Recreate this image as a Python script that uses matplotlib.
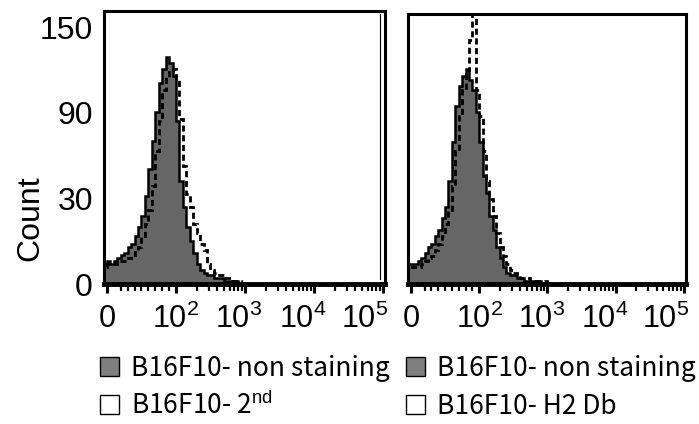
import matplotlib
matplotlib.use("Agg")
import matplotlib.pyplot as plt
import numpy as np
from matplotlib.patches import Patch
from matplotlib.transforms import ScaledTranslation

plt.rcParams['font.family'] = ['Liberation Sans', 'DejaVu Sans']
plt.rcParams['mathtext.fontset'] = 'custom'
plt.rcParams['mathtext.rm'] = 'Liberation Sans'
plt.rcParams['mathtext.it'] = 'Liberation Sans:italic'

FIG_SIZE = (6.99, 4.24)
DPI = 100
FILL_GRAY = '#666666'
LEGEND_GRAY = '#7f7f7f'
Y_FONT_SIZE = 23
X_FONT_SIZE = 22
LEGEND_FONT_SIZE = 19
LEGEND_FONT = ['Noto Sans CJK KR', 'DejaVu Sans']

# histogram bins are 0.05 decade wide on the display axis, the first one starts just below 0
BIN_START = -0.05
BIN_STEP = 0.05

# counts, one value per bin
LEFT_NON_STAINING = [7, 8, 7, 8, 9, 10, 11, 13, 14, 17, 20, 24, 32, 51, 70, 91, 111, 121, 129, 125,
                     116, 84, 42, 27, 20, 15, 11, 7, 5, 4, 3, 3, 2, 2, 2, 1, 1, 1, 1, 0]
LEFT_SECOND = [6, 7, 7, 7, 8, 8, 8, 9, 10, 12, 13, 17, 21, 26, 39, 63, 84, 106, 115, 120,
               121, 113, 86, 53, 33, 27, 21, 18, 14, 12, 7, 5, 4, 3, 3, 2, 2, 1, 1, 1, 0]
RIGHT_NON_STAINING = [7, 7, 7, 8, 9, 11, 13, 14, 17, 19, 23, 27, 42, 70, 95, 109, 116, 121, 113, 106,
                      91, 70, 46, 34, 24, 19, 13, 9, 6, 4, 3, 3, 2, 2, 1, 1, 1, 1, 1, 0]
RIGHT_H2DB = [6, 6, 6, 6, 7, 8, 9, 10, 12, 14, 17, 21, 26, 39, 63, 88, 106, 120, 141, 175,
              106, 88, 63, 42, 30, 24, 18, 13, 10, 7, 5, 4, 3, 2, 2, 2, 1, 1, 1, 1, 1, 0]

LEFT_LABELS = ['B16F10- non staining', 'B16F10- 2$^{\\mathrm{nd}}$']
RIGHT_LABELS = ['B16F10- non staining', 'B16F10- H2 Db']

Y_TICKS = [0, 30, 90, 150]
Y_TICK_LABELS = ['0', '30', '90', '150']
# the count axis is labelled at even spacing: 0, 30, 90, 150
Y_KNOTS = [0, 30, 90, 150, 210]
Y_KNOT_POS = [0, 1, 2, 3, 4]
X_TICKS = [0, 1e2, 1e3, 1e4, 1e5]
X_TICK_LABELS = ['0', '$10^{2}$', '$10^{3}$', '$10^{4}$', '$10^{5}$']
# in the source the decade labels sit a little left of their ticks (pixels)
X_LABEL_SHIFT = [0, 0, -6, -11, -18]
X_MINOR = [k * 10 ** n for n in range(1, 5) for k in range(2, 10)]
X_LIM = (-4.3, 10 ** 5.03)


def y_forward(v):
    return np.interp(v, Y_KNOTS, Y_KNOT_POS)


def y_inverse(u):
    return np.interp(u, Y_KNOT_POS, Y_KNOTS)


def bin_edges(n):
    d = BIN_START + BIN_STEP * np.arange(n + 1)
    return np.where(d <= 1, 100 * d, 10 ** (1 + np.maximum(d, 1)))


def setup_axes(ax, ymax, dotted_left=False):
    ax.set_xscale('symlog', linthresh=100, linscale=0.9)
    ax.set_yscale('function', functions=(y_forward, y_inverse))
    ax.set_xlim(*X_LIM)
    ax.set_ylim(0, ymax)
    ax.set_xticks(X_TICKS, X_TICK_LABELS)
    ax.set_xticks(X_MINOR, minor=True)
    ax.set_yticks(Y_TICKS, Y_TICK_LABELS)
    ax.yaxis.set_minor_locator(matplotlib.ticker.NullLocator())
    ax.tick_params(axis='x', which='major', direction='out', length=6.5, width=2.2,
                   labelsize=X_FONT_SIZE, pad=8)
    ax.tick_params(axis='x', which='minor', direction='out', length=5, width=1.6)
    ax.tick_params(axis='y', length=0, labelsize=Y_FONT_SIZE, pad=8)
    for side in ('top', 'left', 'right'):
        ax.spines[side].set_linewidth(2.2)
    ax.spines['bottom'].set_linewidth(3.5)
    if dotted_left:
        ax.spines['left'].set_linestyle((0, (1, 1)))
        ax.tick_params(axis='y', labelleft=False)
    for label, dx in zip(ax.get_xticklabels(), X_LABEL_SHIFT):
        label.set_transform(label.get_transform() + ScaledTranslation(dx / DPI, 0, ax.figure.dpi_scale_trans))


def draw_hist(ax, filled, dashed):
    ax.stairs(filled, bin_edges(len(filled)), fill=True, color=FILL_GRAY, zorder=2)
    ax.stairs(filled, bin_edges(len(filled)), color='black', linewidth=1.8, zorder=3)
    ax.stairs(dashed, bin_edges(len(dashed)), color='black', linewidth=2,
              linestyle=(0, (2.2, 1.3)), zorder=4)


def add_legend(ax, labels, anchor):
    handles = [Patch(facecolor=LEGEND_GRAY, edgecolor='black', linewidth=1),
               Patch(facecolor='white', edgecolor='black', linewidth=1)]
    ax.legend(handles, labels, loc='upper left', bbox_to_anchor=anchor,
              bbox_transform=ax.figure.transFigure, frameon=False, borderpad=0,
              borderaxespad=0, handlelength=0.72, handleheight=0.72, handletextpad=0.45,
              labelspacing=0.4, prop={'family': LEGEND_FONT, 'size': LEGEND_FONT_SIZE})


fig = plt.figure(figsize=FIG_SIZE, dpi=DPI)
ax_left = fig.add_axes([104 / 699, 140 / 424, 281 / 699, 273 / 424])
ax_right = fig.add_axes([408 / 699, 140 / 424, 278 / 699, 270 / 424])

setup_axes(ax_left, 161.5)
setup_axes(ax_right, 159.5, dotted_left=True)

draw_hist(ax_left, LEFT_NON_STAINING, LEFT_SECOND)
draw_hist(ax_right, RIGHT_NON_STAINING, RIGHT_H2DB)

# thin second line just inside the right frame of the left panel
ax_left.plot([0.982, 0.982], [0.02, 0.99], transform=ax_left.transAxes, color='black', linewidth=0.8)

ax_left.set_ylabel('Count', fontsize=Y_FONT_SIZE)
ax_left.yaxis.set_label_coords(-0.207, 0.24)

add_legend(ax_left, LEFT_LABELS, (100 / 699, 1 - 355 / 424))
add_legend(ax_right, RIGHT_LABELS, (406 / 699, 1 - 355 / 424))

fig.savefig('out.png', dpi=DPI)
